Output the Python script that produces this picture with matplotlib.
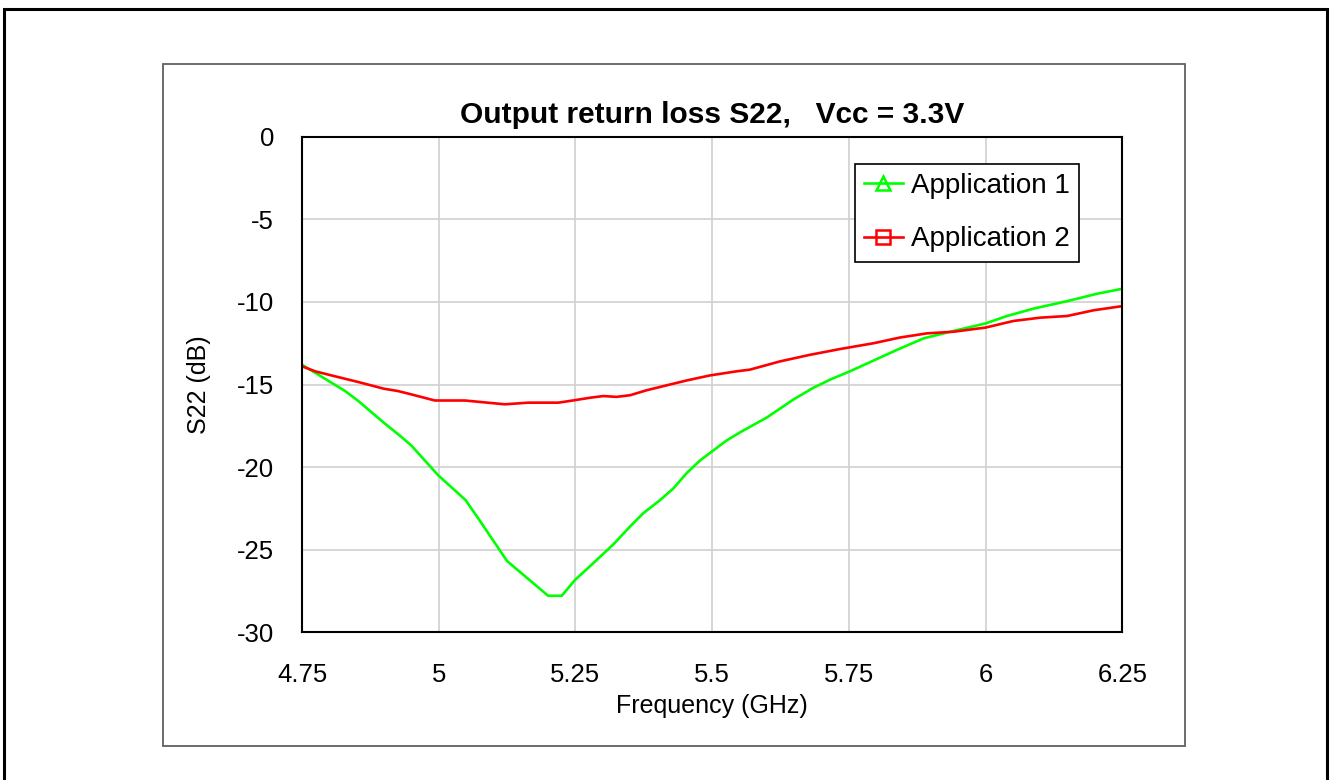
"""
plot.py

Output return loss S22 (Vcc = 3.3V) for two application circuits.
Writes out.png.
"""

import matplotlib
matplotlib.use("Agg")
import matplotlib.pyplot as plt
from matplotlib.lines import Line2D
from matplotlib.patches import Rectangle

plt.rcParams["font.family"] = ["Liberation Sans", "DejaVu Sans"]
plt.rcParams["axes.unicode_minus"] = False

# ----------------------------------------------------------------------
# Data
# ----------------------------------------------------------------------
app1_freq = [4.750, 4.829, 4.853, 4.899, 4.929, 4.950, 4.999, 5.049, 5.072,
             5.125, 5.200, 5.225, 5.249, 5.277, 5.319, 5.350, 5.374, 5.405,
             5.429, 5.454, 5.478, 5.502, 5.526, 5.551, 5.600, 5.649, 5.685,
             5.716, 5.752, 5.795, 5.838, 5.887, 5.942, 6.000, 6.039, 6.088,
             6.149, 6.204, 6.250]
app1_s22 = [-13.8, -15.4, -16.0, -17.3, -18.1, -18.7, -20.5, -22.0, -23.1,
            -25.7, -27.8, -27.8, -26.85, -26.0, -24.7, -23.6, -22.8, -22.0,
            -21.3, -20.35, -19.6, -19.0, -18.4, -17.9, -17.0, -15.9, -15.2,
            -14.7, -14.2, -13.55, -12.9, -12.2, -11.75, -11.3, -10.85, -10.4,
            -9.95, -9.5, -9.2]

app2_freq = [4.750, 4.774, 4.810, 4.853, 4.899, 4.926, 4.950, 4.993, 5.048,
             5.121, 5.164, 5.219, 5.249, 5.277, 5.301, 5.325, 5.350, 5.380,
             5.423, 5.454, 5.496, 5.545, 5.569, 5.624, 5.679, 5.734, 5.795,
             5.844, 5.893, 5.942, 6.000, 6.051, 6.100, 6.149, 6.198, 6.250]
app2_s22 = [-13.9, -14.2, -14.5, -14.85, -15.25, -15.4, -15.6, -15.97, -15.97,
            -16.2, -16.1, -16.1, -15.95, -15.8, -15.7, -15.75, -15.65, -15.35,
            -15.0, -14.75, -14.45, -14.2, -14.1, -13.6, -13.2, -12.85, -12.5,
            -12.15, -11.9, -11.8, -11.55, -11.15, -10.95, -10.85, -10.5, -10.25]

x_ticks = [4.75, 5.0, 5.25, 5.5, 5.75, 6.0, 6.25]
x_tick_labels = ["4.75", "5", "5.25", "5.5", "5.75", "6", "6.25"]
y_ticks = [0, -5, -10, -15, -20, -25, -30]

series_names = ["Application 1", "Application 2"]
GREEN = "#00FF00"
RED = "#FF0000"


def plot_s22(out_path):
    fig = plt.figure(figsize=(13.31, 7.80), dpi=100)

    # outer page frame and chart-area frame
    fig.add_artist(Rectangle((0.003, -0.05), 0.994, 1.0385, transform=fig.transFigure,
                             fill=False, edgecolor="black", linewidth=2.2))
    fig.add_artist(Rectangle((0.1225, 0.0442), 0.7678, 0.8737, transform=fig.transFigure,
                             fill=False, edgecolor="#606060", linewidth=1.3))

    ax = fig.add_axes([0.2269, 0.1897, 0.6163, 0.6347])
    ax.plot(app1_freq, app1_s22, color=GREEN, linewidth=1.9)
    ax.plot(app2_freq, app2_s22, color=RED, linewidth=1.9)

    ax.set_xlim(4.75, 6.25)
    ax.set_ylim(-30, 0)
    ax.set_xticks(x_ticks)
    ax.set_xticklabels(x_tick_labels)
    ax.set_yticks(y_ticks)
    ax.tick_params(length=0, labelsize=18.5)
    ax.tick_params(axis="x", pad=22)
    ax.tick_params(axis="y", pad=20)
    ax.grid(True, color="#d0d0d0", linewidth=1.2)
    ax.set_axisbelow(True)
    for spine in ax.spines.values():
        spine.set_color("black")
        spine.set_linewidth(1.5)

    ax.set_xlabel("Frequency (GHz)", fontsize=18)
    ax.set_ylabel("S22 (dB)", fontsize=18)
    ax.xaxis.set_label_coords(0.5, -0.125)
    ax.yaxis.set_label_coords(-0.111, 0.5)
    ax.set_title("Output return loss S22,   Vcc = 3.3V", fontsize=21.5,
                 fontweight="bold", pad=10)

    # legend shows markers even though the curves don't
    handles = [
        Line2D([], [], color=GREEN, linewidth=1.9, marker="^", markersize=10,
               markerfacecolor="none", markeredgecolor=GREEN, markeredgewidth=1.8),
        Line2D([], [], color=RED, linewidth=1.9, marker="s", markersize=10,
               markerfacecolor="none", markeredgecolor=RED, markeredgewidth=1.8),
    ]
    leg = ax.legend(handles, series_names, loc="upper right",
                    bbox_to_anchor=(0.9476, 0.9455), borderaxespad=0,
                    fontsize=20, fancybox=False, framealpha=1,
                    handlelength=1.4, handletextpad=0.3,
                    labelspacing=0.98, borderpad=0.33)
    leg.get_frame().set_edgecolor("black")
    leg.get_frame().set_linewidth(1.2)

    plt.savefig(out_path, dpi=100)
    plt.close(fig)


def main():
    plot_s22("out.png")


if __name__ == "__main__":
    main()
